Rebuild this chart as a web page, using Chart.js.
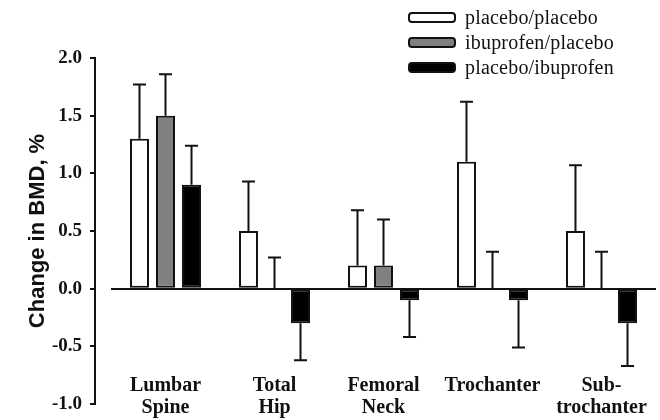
<!DOCTYPE html>
<html>
<head>
<meta charset="utf-8">
<script src="https://cdn.jsdelivr.net/npm/chart.js@4.4.1/dist/chart.umd.min.js"></script>
<style>
  body { margin: 0; background: #fff; }
  #wrap { position: relative; width: 660px; height: 420px; }
  #legend { position: absolute; left: 408px; top: 5px; font-family: 'Liberation Serif', 'Times New Roman', serif; font-size: 20px; color: #111; letter-spacing: 0.2px; }
  .item { display: flex; align-items: center; height: 25px; white-space: nowrap; }
  .box { width: 44px; height: 7px; border: 2px solid #111; border-radius: 4px; margin-right: 9px; }
</style>
</head>
<body>
<div id="wrap">
  <canvas id="chart" width="660" height="420"></canvas>
  <div id="legend"></div>
</div>
<script>
const sites = [['Lumbar', 'Spine'], ['Total', 'Hip'], ['Femoral', 'Neck'], ['Trochanter'], ['Sub-', 'trochanter']];
const seriesNames = ['placebo/placebo', 'ibuprofen/placebo', 'placebo/ibuprofen'];
const placeboPlacebo = [1.3, 0.5, 0.2, 1.1, 0.5];
const ibuprofenPlacebo = [1.5, 0, 0.2, 0, 0];
const placeboIbuprofen = [0.9, -0.3, -0.1, -0.1, -0.3];
// one-sided error bars (drawn away from zero)
const errPlaceboPlacebo = [0.47, 0.43, 0.48, 0.52, 0.57];
const errIbuprofenPlacebo = [0.36, 0.27, 0.40, 0.32, 0.32];
const errPlaceboIbuprofen = [0.34, 0.32, 0.32, 0.41, 0.37];
const yTicks = [-1.0, -0.5, 0.0, 0.5, 1.0, 1.5, 2.0];

const fills = ['#ffffff', '#808080', '#000000'];
const ink = '#111';

// html legend, stacked like the figure
const legend = document.getElementById('legend');
seriesNames.forEach((name, i) => {
  const row = document.createElement('div');
  row.className = 'item';
  row.innerHTML = '<span class="box" style="background:' + fills[i] + '"></span>' + name;
  legend.appendChild(row);
});

const errorBars = {
  id: 'errorBars',
  afterDatasetsDraw(chart) {
    const ctx = chart.ctx, y = chart.scales.y;
    ctx.save();
    ctx.strokeStyle = ink;
    ctx.lineWidth = 2;
    chart.data.datasets.forEach((ds, i) => {
      chart.getDatasetMeta(i).data.forEach((bar, j) => {
        const v = ds.data[j], e = ds.errors[j];
        const end = v < 0 ? v - e : v + e;
        const y0 = y.getPixelForValue(v), y1 = y.getPixelForValue(end);
        ctx.beginPath();
        ctx.moveTo(bar.x, y0); ctx.lineTo(bar.x, y1);
        ctx.moveTo(bar.x - 6.5, y1); ctx.lineTo(bar.x + 6.5, y1);
        ctx.stroke();
      });
    });
    ctx.restore();
  }
};

const setTicks = s => { s.ticks = yTicks.map(v => ({ value: v })); };
const serifBold = size => ({ family: 'Liberation Serif', weight: 'bold', size: size, lineHeight: 1.1 });

new Chart(document.getElementById('chart'), {
  type: 'bar',
  data: {
    labels: sites,
    datasets: [
      { label: seriesNames[0], data: placeboPlacebo, errors: errPlaceboPlacebo, backgroundColor: fills[0] },
      { label: seriesNames[1], data: ibuprofenPlacebo, errors: errIbuprofenPlacebo, backgroundColor: fills[1] },
      { label: seriesNames[2], data: placeboIbuprofen, errors: errPlaceboIbuprofen, backgroundColor: fills[2] }
    ]
  },
  options: {
    responsive: false,
    animation: false,
    devicePixelRatio: 1,
    layout: { padding: { top: 58, right: 4, bottom: 16, left: 0 } },
    datasets: {
      bar: { borderColor: ink, borderWidth: 2, borderSkipped: false, categoryPercentage: 0.716, barPercentage: 0.73 }
    },
    plugins: { legend: { display: false }, tooltip: { enabled: false } },
    scales: {
      x: {
        position: { y: -0.72 },
        offset: true,
        afterFit: s => { s.height = 0; },
        grid: { display: false, drawTicks: false },
        border: { display: false },
        ticks: { padding: 3, color: ink, font: serifBold(20), autoSkip: false, maxRotation: 0 }
      },
      y: {
        position: 'left',
        weight: 1,
        min: -1, max: 2,
        afterBuildTicks: setTicks,
        afterFit: s => { s.width = 95; s.paddingTop = 0; s.paddingBottom = 0; },
        grid: { drawOnChartArea: false, tickLength: 5, color: ink, lineWidth: 2 },
        border: { color: ink, width: 2 },
        ticks: { padding: 8, color: ink, font: serifBold(19), callback: v => v.toFixed(1) },
        title: {
          display: true, text: 'Change in BMD, %', color: ink,
          font: { family: 'Liberation Sans', weight: 'bold', size: 22 },
          padding: { top: 25, bottom: 0 }
        }
      },
      yz: {
        position: 'left',
        weight: 0,
        min: -1, max: 2,
        afterBuildTicks: setTicks,
        afterFit: s => { s.width = 16; s.paddingTop = 0; s.paddingBottom = 0; },
        ticks: { display: false },
        grid: { drawTicks: false, lineWidth: 2, color: c => c.tick.value === 0 ? ink : 'rgba(0,0,0,0)' },
        border: { display: false }
      }
    }
  },
  plugins: [errorBars]
});
</script>
</body>
</html>
